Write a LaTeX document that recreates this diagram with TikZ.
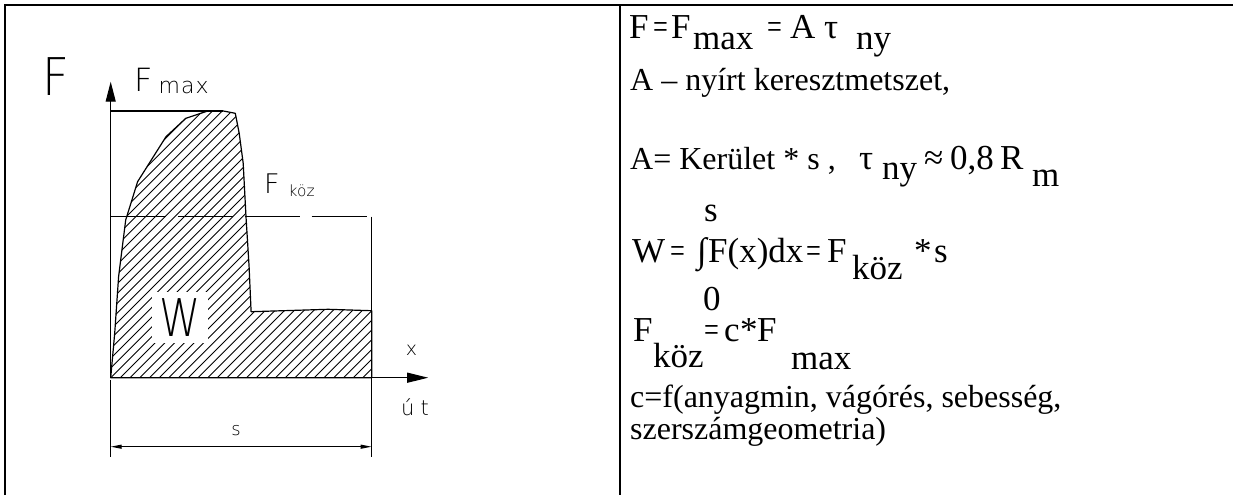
\documentclass[tikz,border=0pt]{standalone}
\usepackage{fontspec}
\usepackage{graphicx}
\setmainfont{Liberation Serif}
\IfFontExistsTF{DejaVu Sans ExtraLight}{\newfontfamily\cadfont{DejaVu Sans ExtraLight}}{\newfontfamily\cadfont{DejaVu Sans}}
\usetikzlibrary{arrows.meta}
\newcommand\cadsize[1]{\fontsize{#1pt}{#1pt}\selectfont}
\newcommand\eqf{\fontsize{35pt}{38pt}\selectfont}
\newcommand\narroweq{\scalebox{0.75}[1]{=}}
\begin{document}
\begin{tikzpicture}[x=1pt,y=-1pt,
  frame/.style={line width=2.6pt,black},
  outline/.style={line width=1.2pt,black,line join=round},
  hatch/.style={line width=0.9pt,black},
  axis/.style={line width=1.1pt,black},
  thin/.style={line width=1pt,black},
  cad/.style={font=\cadfont,inner sep=0pt},
  txt/.style={anchor=base west,inner sep=0pt,font=\fontsize{32pt}{36pt}\selectfont},
  eq/.style={anchor=base west,inner sep=0pt,font=\eqf}]
\useasboundingbox (0,0) rectangle (1233,495);
% frame
\coordinate (BL) at (5,495);
\coordinate (TL) at (5,5);
\coordinate (TR) at (1233,5);
\coordinate (DT) at (620,5);
\coordinate (DB) at (620,495);
\draw[frame] (BL) -- (TL) -- (TR);
\draw[frame] (DT) -- (DB);
% curve
\def\curvepath{(110.7,377.7) -- (114.7,333.3) -- (118.6,276.7) -- (125.7,220) -- (137.6,181.7) -- (166,136.7) -- (185.8,118.3) -- (207.6,111) -- (223.4,111) -- (235.3,113.3) -- (239.2,133.3) -- (243.2,163.3) -- (246,216.7) -- (249.1,266.7) -- (251.1,311.7) -- (328.2,309.3) -- (371.7,310.7) -- (371.7,377.7) -- cycle}
\begin{scope}
\clip \curvepath;
\foreach \k in {-30,...,28}{\draw[hatch] ({110.7+9.7*\k},377.7) -- ++(300,-300);}
\end{scope}
\draw[outline] \curvepath;
% coordinates
\coordinate (O) at (110.7,377.7);
\coordinate (Ytip) at (110.7,81.7);
\coordinate (Xtip) at (428.2,377.7);
\coordinate (Ymax) at (110.7,111);
\coordinate (Pmax) at (223.4,111);
\coordinate (Yk) at (110.7,216.7);
\coordinate (Kr) at (371.7,216.7);
\coordinate (Kb) at (371.7,456.7);
\coordinate (Lt) at (110.7,380);
\coordinate (Lb) at (110.7,456.7);
\coordinate (DL) at (110.7,446.7);
\coordinate (DR) at (371.7,446.7);
% axes
\draw[axis,-{Triangle[length=20pt,width=10pt]}] (O) -- (Ytip);
\draw[axis,-{Triangle[length=21pt,width=10pt]}] (O) -- (Xtip);
\draw[outline] (Ymax) -- (Pmax);
% F_koz dashed and extension lines
\draw[thin,dash pattern=on 55pt off 12pt] (Yk) -- (Kr);
\draw[thin] (Kr) -- (Kb);
\draw[thin] (Lt) -- (Lb);
\draw[thin,{Triangle[length=11pt,width=4pt]}-{Triangle[length=11pt,width=4pt]}] (DL) -- (DR);
% labels left
\node[cad,anchor=base west] (Fbig) at (42,95) {\cadsize{52}\scalebox{0.9}[1]{F}};
\node[cad,anchor=base west] (Fmax) at (134,91.7) {\cadsize{32}F\hspace{6pt}\raisebox{-1.6pt}{\cadsize{22}m\hspace{1pt}a\hspace{1pt}x}};
\node[cad,anchor=base west] (Fkoz) at (264,193.3) {\cadsize{27}F\hspace{9pt}\raisebox{-3.4pt}{\cadsize{15.4}köz}};
\node[cad,fill=white,inner sep=7pt] (Wlbl) at (180,317.5) {\cadsize{52}\scalebox{0.8}[1]{W}};
\node[cad,anchor=base] (xlbl) at (411.6,355) {\cadsize{19}x};
\node[cad,anchor=base] (utlbl) at (415,415) {\cadsize{21}ú\hspace{6pt}t};
\node[cad,anchor=base] (slbl) at (236,435) {\cadsize{18}s};
% right text, line 1
\node[eq] (a1) at (629,38.5) {F};
\node[eq] (a2) at (653,38.5) {\narroweq};
\node[eq] (a3) at (671,38.5) {F};
\node[eq] (a4) at (693,50) {max};
\node[eq] (a5) at (767,38.5) {\narroweq};
\node[eq] (a6) at (790,38.5) {A};
\node[eq] (a7) at (824,38.5) {τ};
\node[eq] (a8) at (856,50) {ny};
% line 2
\node[txt] (L2) at (630,90) {A – nyírt keresztmetszet,};
% line 3
\node[txt] (L3) at (630,169) {A= Kerület * s ,};
\node[eq] (c1) at (859,169) {τ};
\node[eq] (c2) at (882,179) {ny};
\node[eq] (c3) at (924,169) {≈};
\node[eq] (c4) at (950,169) {0,8};
\node[eq] (c5) at (1000,169) {R};
\node[eq] (c6) at (1032,186) {m};
% integral line
\node[eq] (Lsup) at (704,221.7) {s};
\node[eq] (d1) at (632,262) {W};
\node[eq] (d2) at (670,262) {\narroweq};
\node[eq] (d3) at (697,262) {∫};
\node[eq] (d4) at (708,262) {F(x)dx};
\node[eq] (d5) at (806,262) {\narroweq};
\node[eq] (d6) at (827,262) {F};
\node[eq] (d7) at (852,279) {köz};
\node[eq] (d8) at (914,262) {*};
\node[eq] (d9) at (934,262) {s};
\node[eq] (Lsub) at (703,310.5) {0};
% F_koz line
\node[eq] (e1) at (633,341) {F};
\node[eq] (e2) at (653,367) {köz};
\node[eq] (e3) at (704,341) {\narroweq};
\node[eq] (e4) at (724,341) {c};
\node[eq] (e5) at (740,341) {*};
\node[eq] (e6) at (757,341) {F};
\node[eq] (e7) at (791,369) {max};
% last lines
\node[txt] (L6) at (630,407) {c=f(anyagmin, vágórés, sebesség,};
\node[txt] (L7) at (630,439) {szerszámgeometria)};
\end{tikzpicture}
\end{document}
